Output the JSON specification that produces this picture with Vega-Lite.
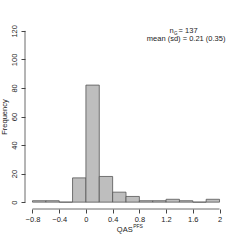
{
  "$schema": "https://vega.github.io/schema/vega-lite/v6.json",
  "autosize": "none",
  "width": 202,
  "height": 185,
  "padding": {"left": 25, "top": 24, "right": 13, "bottom": 31},
  "background": "white",
  "config": {
    "view": {"stroke": null},
    "font": "Liberation Sans",
    "axis": {"grid": false, "domain": false, "tickColor": "#444", "tickSize": 4, "labelFont": "Liberation Sans", "titleFont": "Liberation Sans", "labelFontSize": 7.5, "titleFontSize": 7.5, "labelColor": "#222", "titleColor": "#222", "titleFontWeight": "normal", "labelOverlap": false, "labelFlush": false}
  },
  "layer": [
    {
      "data": {"values": [
        {"bin_start": -0.8, "bin_end": -0.6, "count": 1},
        {"bin_start": -0.6, "bin_end": -0.4, "count": 1},
        {"bin_start": -0.4, "bin_end": -0.2, "count": 0},
        {"bin_start": -0.2, "bin_end": 0.0, "count": 17},
        {"bin_start": 0.0, "bin_end": 0.2, "count": 82},
        {"bin_start": 0.2, "bin_end": 0.4, "count": 18},
        {"bin_start": 0.4, "bin_end": 0.6, "count": 7},
        {"bin_start": 0.6, "bin_end": 0.8, "count": 4},
        {"bin_start": 0.8, "bin_end": 1.0, "count": 1},
        {"bin_start": 1.0, "bin_end": 1.2, "count": 1},
        {"bin_start": 1.2, "bin_end": 1.4, "count": 2},
        {"bin_start": 1.4, "bin_end": 1.6, "count": 1},
        {"bin_start": 1.6, "bin_end": 1.8, "count": 0},
        {"bin_start": 1.8, "bin_end": 2.0, "count": 2}
      ]},
      "mark": {"type": "bar", "fill": "#bebebe", "stroke": "#555", "strokeWidth": 0.8},
      "encoding": {
        "x": {"field": "bin_start", "type": "quantitative",
              "scale": {"domain": [-0.912, 2.112], "nice": false, "zero": false},
              "axis": {"values": [-0.8, -0.4, 0, 0.4, 0.8, 1.2, 1.6, 2], "tickCount": 8, "labelOverlap": false, "format": "~g", "title": null, "labelPadding": 2}},
        "x2": {"field": "bin_end"},
        "y": {"field": "count", "type": "quantitative",
              "scale": {"domain": [-4.8, 124.8], "nice": false, "zero": false},
              "axis": {"values": [0, 20, 40, 60, 80, 100, 120], "tickCount": 7, "labelOverlap": false, "title": "Frequency", "labelAngle": 270, "labelAlign": "center", "labelBaseline": "bottom", "labelPadding": 3, "titlePadding": 2}},
        "y2": {"datum": 0}
      }
    },
    {
      "data": {"values": [{}]},
      "mark": {"type": "rule", "color": "#444", "strokeWidth": 0.8},
      "encoding": {"x": {"datum": -0.8}, "x2": {"datum": 2}, "y": {"datum": -4.8}}
    },
    {
      "data": {"values": [{}]},
      "mark": {"type": "rule", "color": "#444", "strokeWidth": 0.8},
      "encoding": {"y": {"datum": 0}, "y2": {"datum": 120}, "x": {"datum": -0.912}}
    },
    {
      "data": {"values": [{}]},
      "mark": {"type": "text", "fontSize": 7.5, "align": "center", "baseline": "middle", "color": "#222", "clip": false},
      "encoding": {"x": {"datum": 1.5}, "y": {"datum": 114.4}, "text": {"value": "mean (sd) = 0.21 (0.35)"}}
    },
    {
      "data": {"values": [{}]},
      "mark": {"type": "text", "fontSize": 7.5, "align": "left", "baseline": "middle", "color": "#222", "dx": -7.5},
      "encoding": {"x": {"datum": 1.5}, "y": {"datum": 120.2}, "text": {"value": "= 137"}}
    },
    {
      "data": {"values": [{}]},
      "mark": {"type": "text", "fontSize": 7.5, "align": "right", "baseline": "middle", "color": "#222", "dx": -12.5},
      "encoding": {"x": {"datum": 1.5}, "y": {"datum": 120.2}, "text": {"value": "n"}}
    },
    {
      "data": {"values": [{}]},
      "mark": {"type": "text", "fontSize": 4.5, "align": "left", "baseline": "top", "color": "#222", "dx": -12.2, "dy": 0.8},
      "encoding": {"x": {"datum": 1.5}, "y": {"datum": 120.2}, "text": {"value": "G"}}
    },
    {
      "data": {"values": [{}]},
      "mark": {"type": "text", "fontSize": 7.5, "align": "right", "baseline": "middle", "color": "#222", "clip": false},
      "encoding": {"x": {"datum": 0.7}, "y": {"datum": -19.4}, "text": {"value": "QAS"}}
    },
    {
      "data": {"values": [{}]},
      "mark": {"type": "text", "fontSize": 5, "align": "left", "baseline": "bottom", "color": "#222", "clip": false, "dx": 0.5, "dy": -1},
      "encoding": {"x": {"datum": 0.7}, "y": {"datum": -19.4}, "text": {"value": "PFS"}}
    }
  ]
}
